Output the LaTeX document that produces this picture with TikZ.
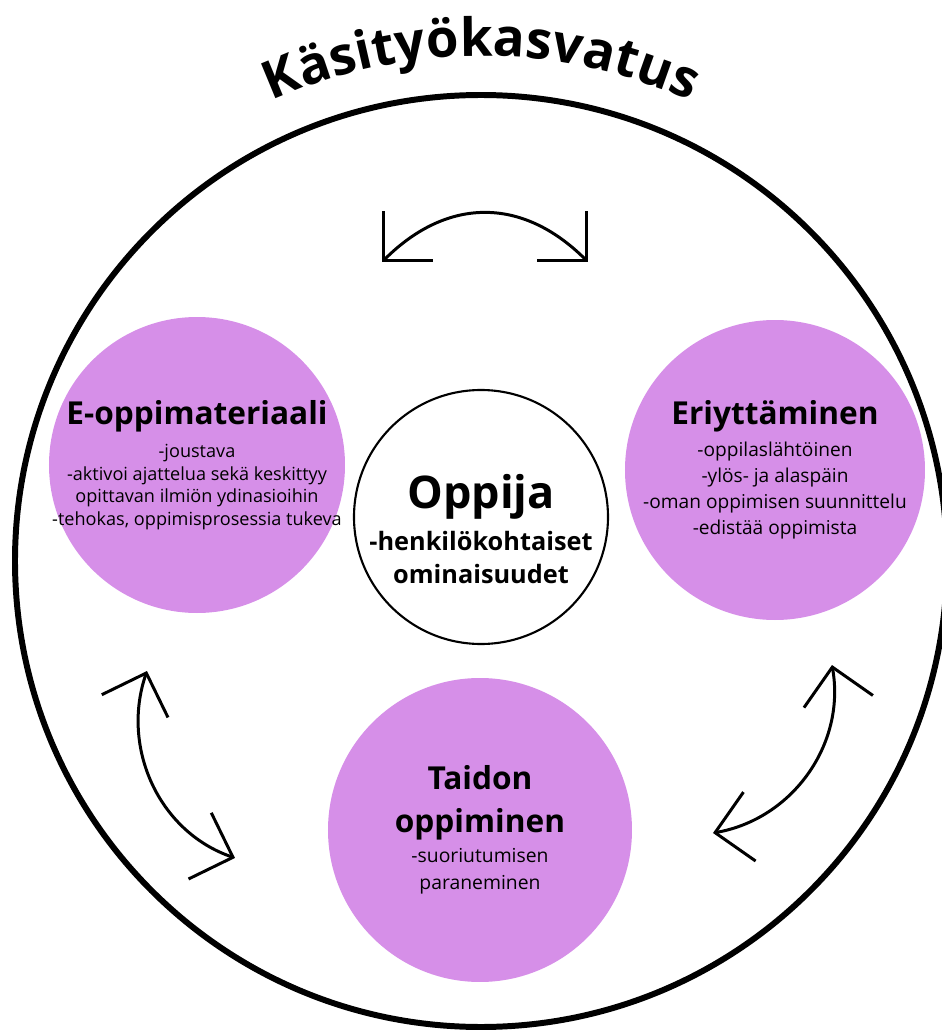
\documentclass[tikz,border=0pt]{standalone}
\usepackage{fontspec}
\setmainfont{Open Sans}
\usetikzlibrary{arrows.meta,decorations.text}
\definecolor{lilac}{RGB}{214,143,232}
\newcommand{\circlehead}{\fontsize{9}{11}\selectfont\bfseries}
\newcommand{\ringtitle}{\fontsize{15}{18}\selectfont\bfseries}

\begin{document}
\begin{tikzpicture}[
    topic/.style={circle, fill=lilac, align=center, inner sep=-2mm},
    flow/.style={line width=0.85pt, {Straight Barb[length=3.5mm,width=7mm]}-{Straight Barb[length=3.5mm,width=7mm]}}
  ]
    \useasboundingbox (0,0) rectangle (9.42,10.32);

    \node[circle, draw, line width=1.7pt, minimum size=9.32cm] (ring) at (4.81,4.71) {};

    \path[decorate, decoration={text along path, text align=center,
        text={|\ringtitle|Käsityökasvatus}}]
      ([shift={(122:5.05)}]ring.center) arc[start angle=122, end angle=58, radius=5.05]; % title

    \node[topic, minimum size=2.96cm, font=\fontsize{5.15}{6.4}\selectfont] (material) at (1.97,5.67)
      {{\circlehead E-oppimateriaali}\\[3pt] -joustava\\ -aktivoi ajattelua sekä keskittyy\\ opittavan ilmiön ydinasioihin\\ -tehokas, oppimisprosessia tukeva};
    \node[topic, minimum size=3cm, font=\fontsize{5.44}{7.4}\selectfont] (diff) at (7.75,5.62)
      {{\circlehead Eriyttäminen}\\[1.6pt] -oppilaslähtöinen\\ -ylös- ja alaspäin\\ -oman oppimisen suunnittelu\\ -edistää oppimista};
    \node[topic, minimum size=3.04cm, font=\fontsize{5.5}{7.7}\selectfont] (skill) at (4.80,2.02)
      {{\circlehead Taidon}\\[4.5pt] {\circlehead oppiminen}\\[0.9pt] -suoriutumisen\\ paraneminen};

    \node[circle, draw, line width=0.6pt, minimum size=2.54cm] (learner) at (4.81,5.15) {};
    \node[align=center, font=\fontsize{7.2}{9.4}\selectfont\bfseries] (learner text) at ([yshift=-1.2mm]learner.center)
      {{\fontsize{12.8}{15}\selectfont Oppija}\\[2.6pt] -henkilökohtaiset\\ ominaisuudet};

    \coordinate (top l) at (3.82,7.70);
    \coordinate (top r) at (5.88,7.70);
    \coordinate (left t) at (1.47,3.61);
    \coordinate (left b) at (2.35,1.74);
    \coordinate (right t) at (8.32,3.67);
    \coordinate (right b) at (7.13,1.99);

    \draw[flow] (top l) to[out=45, in=135, looseness=1.15] (top r);
    \draw[flow] (left t) to[out=251, in=161] (left b);
    \draw[flow] (right t) to[out=280, in=10] (right b);
\end{tikzpicture}
\end{document}
